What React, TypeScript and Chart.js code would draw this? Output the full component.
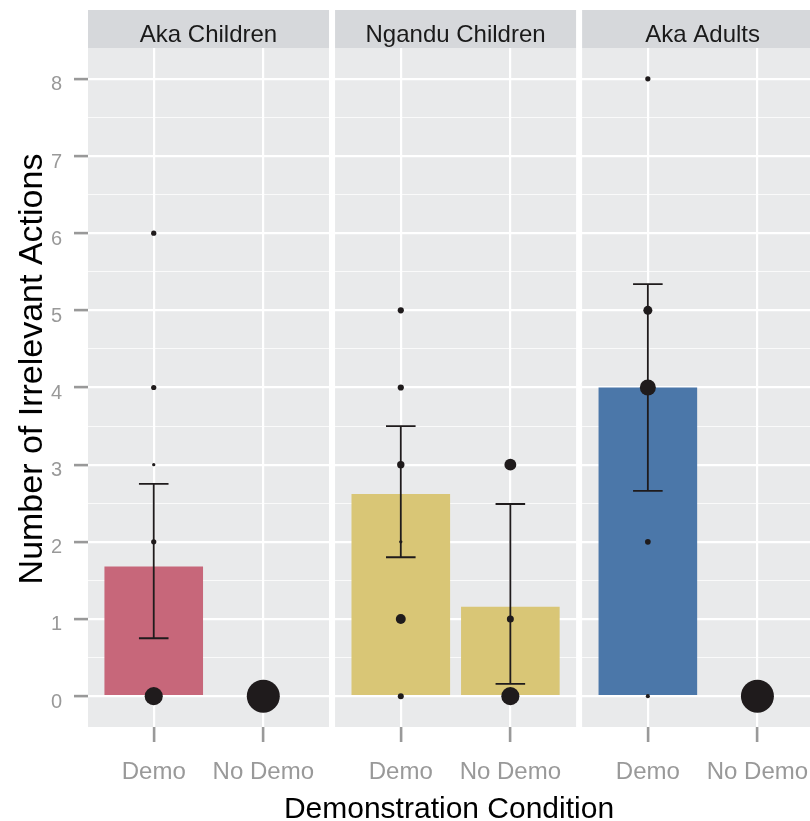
import React, { useEffect, useRef } from "react";
import { Chart, registerables } from "chart.js";

Chart.register(...registerables);

// ---------- data ----------
const panelNames = ["Aka Children", "Ngandu Children", "Aka Adults"];
const conditionLabels = ["Demo", "No Demo"];
// group order: panel-major (Aka Children Demo, Aka Children No Demo, Ngandu Demo, ...)
const meanActions = [1.68, 0, 2.62, 1.16, 4.0, 0];
const errLow = [0.75, null, 1.8, 0.16, 2.66, null];
const errHigh = [2.75, null, 3.5, 2.49, 5.34, null];
// individual observations (group index, value, share of group in %)
const obsGroup = [0, 0, 0, 0, 0, 1, 2, 2, 2, 2, 2, 2, 3, 3, 3, 4, 4, 4, 4, 4, 5];
const obsValue = [0, 2, 3, 4, 6, 0, 0, 1, 2, 3, 4, 5, 0, 1, 3, 0, 2, 4, 5, 8, 0];
const obsShare = [30, 2.5, 1, 2.5, 2.5, 100, 3.3, 9, 1, 5, 3.5, 3.5, 30, 4.5, 13, 1.5, 3, 23.5, 7.5, 2.5, 100];
const yTickValues = [0, 1, 2, 3, 4, 5, 6, 7, 8];
const yMinorValues = [0.5, 1.5, 2.5, 3.5, 4.5, 5.5, 6.5, 7.5];
const yTitle = "Number of Irrelevant Actions";
const xTitle = "Demonstration Condition";

// ---------- styles / layout ----------
const panelColors = ["#c7677a", "#d9c676", "#4b77a9"];
const FONT = "'Liberation Sans', Arial, Helvetica, sans-serif";
const PANEL_BG = "#e9eaeb";
const STRIP_BG = "#d6d8db";
const TICK_GREY = "#999999";
const INK = "#1f1b1c";
const PANEL_SPAN = 2.2;
const PANEL_EXPAND = 0.6;
const PANEL_GAP = 0.055;
const X_MAX = 6.59;
const CAP = 0.135;
const MAX_R = 16.5;
const STRIP_H = 38;

function panelStart(k: number) {
  return k * (PANEL_SPAN + PANEL_GAP);
}

export default function App() {
  const ref = useRef<HTMLCanvasElement | null>(null);

  useEffect(() => {
    const canvas = ref.current;
    if (!canvas) return;

    const centers: number[] = [];
    panelNames.forEach((_, k) =>
      conditionLabels.forEach((_, j) => centers.push(panelStart(k) + PANEL_EXPAND + j))
    );
    const tickLabelMap: Record<string, string> = {};
    centers.forEach((c, i) => {
      tickLabelMap[c.toFixed(4)] = conditionLabels[i % 2];
    });

    const barData = meanActions.map((y, i) => ({ x: centers[i], y }));
    const barColors = meanActions.map((_, i) => panelColors[Math.floor(i / 2)]);

    const errData: any[] = [];
    errLow.forEach((lo, i) => {
      const hi = errHigh[i];
      if (lo == null || hi == null) return;
      const c = centers[i];
      errData.push(
        { x: c, y: lo }, { x: c, y: hi }, { x: c, y: null },
        { x: c - CAP, y: hi }, { x: c + CAP, y: hi }, { x: c, y: null },
        { x: c - CAP, y: lo }, { x: c + CAP, y: lo }, { x: c, y: null }
      );
    });

    const pointData = obsValue.map((v, i) => ({
      x: centers[obsGroup[i]],
      y: v,
      r: MAX_R * Math.sqrt(obsShare[i] / 100),
    }));

    const facetPlugin = {
      id: "facets",
      beforeDraw(chart: any) {
        const { ctx, chartArea, scales } = chart;
        const xs = scales.x;
        ctx.save();
        panelNames.forEach((name, k) => {
          const x0 = xs.getPixelForValue(panelStart(k));
          const x1 = xs.getPixelForValue(panelStart(k) + PANEL_SPAN);
          const r = Math.min(x1, chart.width);
          ctx.fillStyle = PANEL_BG;
          ctx.fillRect(x0, chartArea.top, r - x0, chartArea.bottom - chartArea.top);
          ctx.fillStyle = STRIP_BG;
          ctx.fillRect(x0, chartArea.top - STRIP_H, r - x0, STRIP_H);
          ctx.fillStyle = "#1a1a1a";
          ctx.font = `24px ${FONT}`;
          ctx.textAlign = "center";
          ctx.textBaseline = "alphabetic";
          ctx.fillText(name, (x0 + x1) / 2, chartArea.top - 6.5);
        });
        ctx.restore();
      },
      afterDraw(chart: any) {
        const { ctx, chartArea } = chart;
        ctx.save();
        ctx.fillStyle = "#000000";
        ctx.textAlign = "center";
        ctx.textBaseline = "alphabetic";
        ctx.font = `30px ${FONT}`;
        ctx.fillText(xTitle, (chartArea.left + chartArea.right) / 2, 818);
        ctx.translate(42, 369);
        ctx.rotate(-Math.PI / 2);
        ctx.font = `34px ${FONT}`;
        ctx.fillText(yTitle, 0, 0);
        ctx.restore();
      },
    };

    const chart = new Chart(canvas, {
      type: "bar",
      data: {
        datasets: [
          {
            type: "bar",
            data: barData,
            backgroundColor: barColors,
            borderWidth: 0,
            barPercentage: 0.9,
            categoryPercentage: 1,
            order: 3,
          } as any,
          {
            type: "bubble",
            data: pointData,
            backgroundColor: INK,
            borderWidth: 0,
            order: 1,
          } as any,
          {
            type: "line",
            data: errData,
            borderColor: INK,
            borderWidth: 1.8,
            pointRadius: 0,
            fill: false,
            spanGaps: false,
            tension: 0,
            borderCapStyle: "butt",
            order: 2,
          } as any,
        ],
      },
      options: {
        responsive: false,
        animation: false,
        events: [],
        layout: { autoPadding: false, padding: { top: 48, left: 0, right: 0, bottom: 0 } },
        plugins: {
          legend: { display: false },
          tooltip: { enabled: false },
          title: { display: false },
        },
        scales: {
          x: {
            type: "linear",
            min: 0,
            max: X_MAX,
            offset: false,
            border: { display: false },
            grid: {
              offset: false,
              color: "#ffffff",
              lineWidth: 2.2,
              drawTicks: true,
              tickLength: 15,
              tickColor: TICK_GREY,
              tickWidth: 2.6,
            },
            ticks: {
              autoSkip: false,
              maxRotation: 0,
              minRotation: 0,
              padding: 16,
              color: TICK_GREY,
              font: { family: FONT, size: 24 },
              callback: (v: any) => tickLabelMap[Number(v).toFixed(4)] ?? "",
            },
            afterBuildTicks: (scale: any) => {
              scale.ticks = centers.map((c) => ({ value: c }));
            },
            afterFit: (scale: any) => {
              scale.height = 94;
              scale.paddingLeft = 0;
              scale.paddingRight = 0;
            },
          } as any,
          y: {
            type: "linear",
            min: -0.4,
            max: 8.4,
            border: { display: false },
            grid: {
              color: (c: any) =>
                Number.isInteger(c.tick?.value) ? "#ffffff" : "rgba(255,255,255,0.75)",
              lineWidth: (c: any) => (Number.isInteger(c.tick?.value) ? 2.2 : 1),
              drawTicks: true,
              tickLength: 14,
              tickColor: (c: any) =>
                Number.isInteger(c.tick?.value) ? TICK_GREY : "rgba(0,0,0,0)",
              tickWidth: 2.6,
            },
            ticks: {
              padding: 12,
              labelOffset: 6,
              color: TICK_GREY,
              font: { family: FONT, size: 20 },
              callback: (v: any) => (Number.isInteger(v) ? String(v) : ""),
            },
            afterBuildTicks: (scale: any) => {
              scale.ticks = [...yTickValues, ...yMinorValues]
                .sort((a, b) => a - b)
                .map((v) => ({ value: v }));
            },
            afterFit: (scale: any) => {
              scale.width = 88;
              scale.paddingTop = 0;
              scale.paddingBottom = 0;
            },
          } as any,
        },
      } as any,
      plugins: [facetPlugin],
    });

    return () => chart.destroy();
  }, []);

  return (
    <div style={{ position: "absolute", left: 0, top: 0, width: 810, height: 821, background: "#ffffff" }}>
      <canvas ref={ref} width={810} height={821} style={{ display: "block", width: 810, height: 821 }} />
    </div>
  );
}
